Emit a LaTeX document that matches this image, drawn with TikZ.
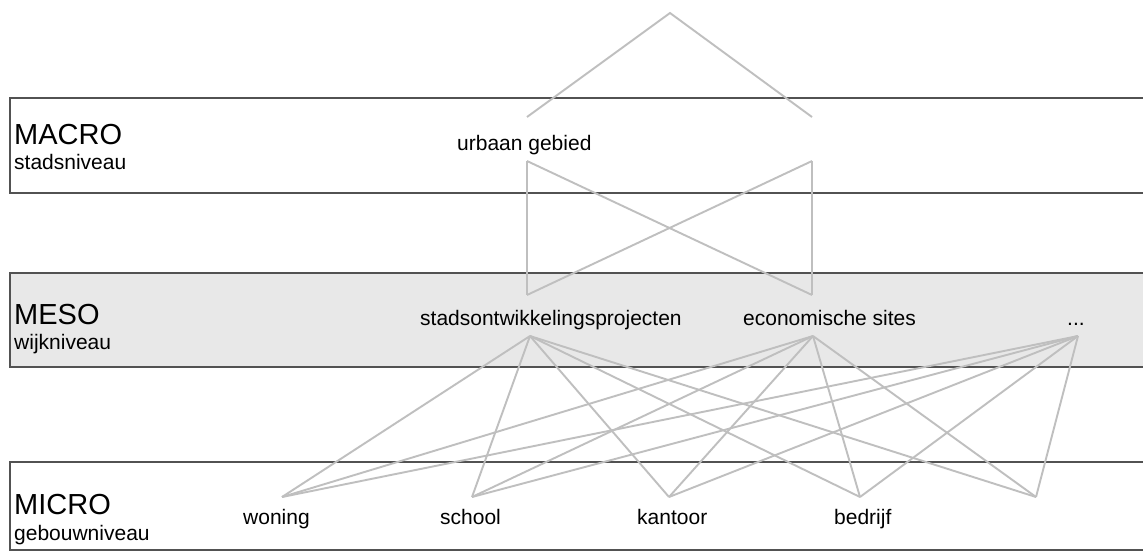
\documentclass[tikz,border=0pt]{standalone}
\usepackage{fontspec}
\setmainfont{Liberation Sans}
\begin{document}
\begin{tikzpicture}[x=1pt, y=-1pt,
    % Estilos
    niveau/.style={draw=black!68, line width=2.4pt},
    titel/.style={anchor=base west, inner sep=0pt, font=\fontsize{29}{32}\selectfont},
    label/.style={anchor=base west, inner sep=0pt, font=\fontsize{21}{24}\selectfont},
    link/.style={draw=black!25, line width=1.9pt}
]
\clip (0,0) rectangle (1143,552);
\fill[white] (0,0) rectangle (1143,552);

% =============================================
% NIVEAUS
% =============================================
\fill[black!9] (10,273) rectangle (1150,367);
\draw[niveau] (1150,98) -- (10,98) -- (10,193) -- (1150,193);
\draw[niveau] (1150,273) -- (10,273) -- (10,367) -- (1150,367);
\draw[niveau] (1150,462) -- (10,462) -- (10,550) -- (1150,550);

\node[titel] (macro) at (14,144) {MACRO};
\node[label] (macro-sub) at (14,169) {stadsniveau};
\node[titel] (meso) at (14,324) {MESO};
\node[label] (meso-sub) at (14,349) {wijkniveau};
\node[titel] (micro) at (14,514) {MICRO};
\node[label] (micro-sub) at (14,540) {gebouwniveau};

% =============================================
% ELEMENTEN
% =============================================
\node[label] (urbaan) at (457,150) {urbaan gebied};
\node[label] (stads) at (420,325) {stadsontwikkelingsprojecten};
\node[label] (eco) at (743,325) {economische sites};
\node[label] (rest) at (1067,325) {...};
\node[label] (woning) at (243,524) {woning};
\node[label] (school) at (440,524) {school};
\node[label] (kantoor) at (637,524) {kantoor};
\node[label] (bedrijf) at (834,524) {bedrijf};

% aansluitpunten
\coordinate (top) at (670,13);
\coordinate (urbaan-up-w) at (527,117);
\coordinate (urbaan-up-e) at (812,117);
\coordinate (urbaan-dn-w) at (527,161);
\coordinate (urbaan-dn-e) at (812,161);
\coordinate (stads-up) at (527,295);
\coordinate (eco-up) at (812,295);
\coordinate (stads-dn) at (530,336);
\coordinate (eco-dn) at (813,336);
\coordinate (rest-dn) at (1078,336);
\coordinate (woning-up) at (282,497);
\coordinate (school-up) at (472,497);
\coordinate (kantoor-up) at (669,497);
\coordinate (bedrijf-up) at (860,497);
\coordinate (overig-up) at (1036,497);

% =============================================
% VERBINDINGEN
% =============================================
\draw[link] (urbaan-up-w) -- (top) -- (urbaan-up-e);
\draw[link] (urbaan-dn-w) -- (stads-up);
\draw[link] (urbaan-dn-w) -- (eco-up);
\draw[link] (urbaan-dn-e) -- (eco-up);
\draw[link] (urbaan-dn-e) -- (stads-up);

\foreach \m in {stads, eco, rest}
    \foreach \w in {woning, school, kantoor, bedrijf, overig}
        \draw[link] (\m-dn) -- (\w-up);

\end{tikzpicture}
\end{document}
